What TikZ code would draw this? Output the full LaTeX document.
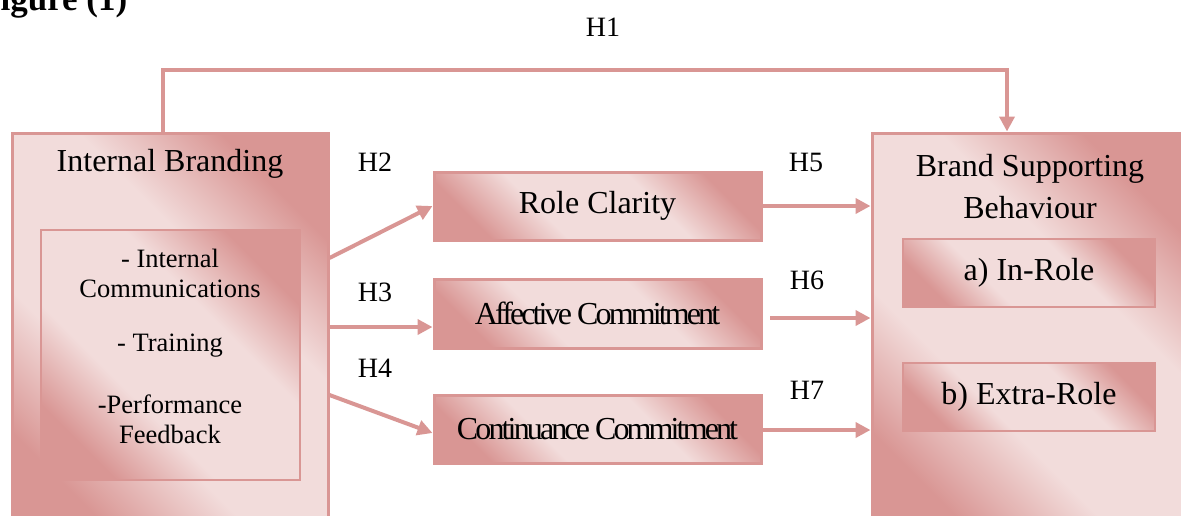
\documentclass[tikz,border=0pt]{standalone}
\usepackage{fontspec}
\setmainfont{Liberation Serif}
\usetikzlibrary{arrows.meta,calc}
\definecolor{rosebd}{HTML}{D99694}
\definecolor{roselt}{HTML}{F2DCDB}
\pgfdeclareverticalshading{roseband}{100bp}{color(0bp)=(rosebd); color(25bp)=(rosebd);
  color(39bp)=(roselt); color(61bp)=(roselt); color(75bp)=(rosebd); color(100bp)=(rosebd)}

\begin{document}
\begin{tikzpicture}[x=1pt, y=-1pt,
  shadedbox/.style={rectangle, draw=rosebd, inner sep=0pt,
    shading=roseband, shading angle=-45},
  outerbox/.style={shadedbox, line width=3pt},
  midbox/.style={shadedbox, line width=3pt, minimum width=327, minimum height=68},
  innerbox/.style={shadedbox, line width=2.5pt},
  bigtext/.style={font=\fontsize{32}{42}\selectfont, align=center, inner sep=0pt},
  listtext/.style={font=\fontsize{26.5}{30}\selectfont, align=center, inner sep=0pt},
  hlabel/.style={font=\fontsize{28}{32}\selectfont, inner sep=0pt},
  tight/.style={font=\fontsize{32}{38}\selectfont\addfontfeature{LetterSpace=-9}, inner sep=0pt},
  link/.style={draw=rosebd, line width=4pt, -{Triangle[length=15pt, width=15pt]}},
]
  \useasboundingbox (0,0) rectangle (1181,515);

  % === title (cut at the top) ===
  \node[anchor=base west, inner sep=0pt, font=\fontsize{35}{40}\selectfont\bfseries]
    (fig) at (-21,10) {Figure (1)};

  % === LEFT: internal branding ===
  \node[outerbox, minimum width=316, minimum height=407] (ib) at (170,336.5) {};
  \node[bigtext] (ibt) at (170,164) {Internal Branding};
  \node[innerbox, minimum width=259, minimum height=250] (ibin) at (170.5,355) {};
  \node[listtext] (ic1) at (170,273) {- Internal\\Communications};
  \node[listtext] (ic2) at (170,346) {- Training};
  \node[listtext] (ic3) at (170,419) {-Performance\\Feedback};

  % === CENTRAL: mediators ===
  \node[midbox] (rc) at (597.5,206) {};
  \node[bigtext] at (rc) {Role Clarity};
  \node[midbox, minimum height=69] (ac) at (597.5,313.5) {};
  \node[tight] at (ac) {Affective Commitment};
  \node[midbox] (cc) at (597.5,429) {};
  \node[tight] at (cc) {Continuance Commitment};

  % === RIGHT: brand supporting behaviour ===
  \node[outerbox, minimum width=318, minimum height=407] (bs) at (1031,336.5) {};
  \node[bigtext] (bst) at (1030,187) {Brand Supporting\\Behaviour};
  \node[innerbox, minimum width=252, minimum height=68] (inr) at (1029,273) {};
  \node[bigtext] at (inr) {a) In-Role};
  \node[innerbox, minimum width=252, minimum height=68] (exr) at (1029,397) {};
  \node[bigtext] at (exr) {b) Extra-Role};

  % === H1: direct path over the top ===
  \coordinate (h1a) at (163,70);
  \coordinate (h1b) at (1007,70);
  \draw[link] (ib.north -| h1a) -- (h1a) -- (h1b) -- (h1b |- bs.north);

  % === H2 - H4 ===
  \draw[link] (ib.east |- 0,258) -- (rc.west);
  \draw[link] (ib.east |- 0,327) -- (ac.west |- 0,327);
  \draw[link] (ib.east |- 0,395) -- (cc.west |- 0,433);

  % === H5 - H7 ===
  \coordinate (h6s) at (770,318);
  \draw[link] (rc.east) -- (rc.east -| bs.west);
  \draw[link] (h6s) -- (h6s -| bs.west);
  \draw[link] (cc.east |- 0,430) -- (bs.west |- 0,430);

  % === hypothesis labels ===
  \node[hlabel] (h1) at (603,27) {H1};
  \node[hlabel] (h2) at (375,162) {H2};
  \node[hlabel] (h3) at (375,292) {H3};
  \node[hlabel] (h4) at (375,368) {H4};
  \node[hlabel] (h5) at (806,162) {H5};
  \node[hlabel] (h6) at (807,280) {H6};
  \node[hlabel] (h7) at (807,390) {H7};

\end{tikzpicture}
\end{document}
